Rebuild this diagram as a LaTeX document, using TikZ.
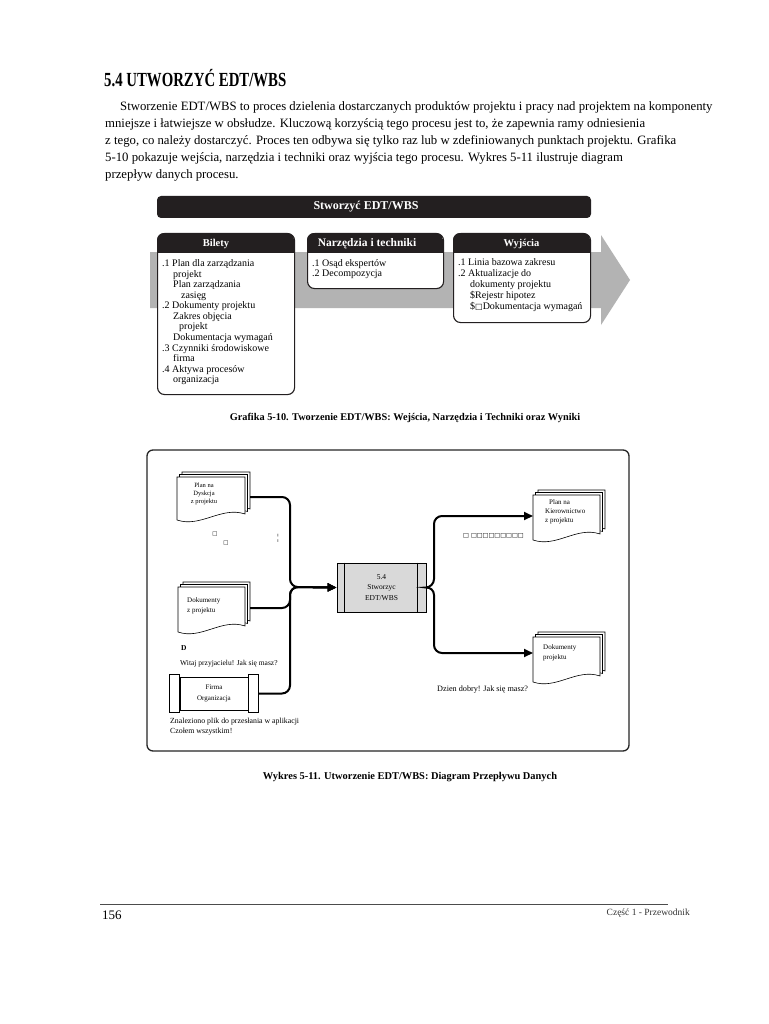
\documentclass[tikz,border=0pt]{standalone}
\usepackage{fontspec}
\setmainfont{Liberation Serif}
\newfontfamily\symf{DejaVu Sans}
\usetikzlibrary{arrows.meta}
\definecolor{dark}{HTML}{231F20}
\definecolor{agray}{HTML}{B3B3B3}
\definecolor{pgray}{HTML}{D9D9D9}
\newcommand\fsz[2]{\fontsize{#1}{#2}\selectfont}
\newcommand\docstack[4]{%
  \foreach \sft in {5,2.5,0}{%
    \filldraw[fill=white, draw=black, line width=0.6pt]
      ({#1+\sft},{#2-\sft}) -- ({#3+\sft},{#2-\sft}) -- ({#3+\sft},{#4-\sft-6})
      .. controls ({#3+\sft-0.35*(#3-#1)},{#4-\sft-14}) and ({#1+\sft+0.35*(#3-#1)},{#4-\sft+8}) ..
      ({#1+\sft},{#4-\sft}) -- cycle;
  }}
\tikzset{
  body/.style={anchor=base west, inner sep=0pt, font=\fsz{12.75}{17}},
  tbox/.style={draw=dark, line width=1.1pt, rounded corners=7pt, fill=white, anchor=north west, inner sep=0pt},
  htext/.style={text=white, font=\bfseries\fsz{10.5}{12}, inner sep=0pt},
  btext/.style={anchor=north west, inner sep=0pt, align=left},
  small/.style={inner sep=0pt, font=\fsz{7.6}{9}},
  flow/.style={line width=2pt, rounded corners=8pt, -{Triangle[length=9pt,width=8pt]}},
  capt/.style={inner sep=0pt, font=\bfseries\fsz{10.3}{12}}
}
\begin{document}
\begin{tikzpicture}[x=1pt,y=-1pt]
\useasboundingbox (0,0) rectangle (768,1024);
\fill[white] (0,0) rectangle (768,1024);

% title and paragraph
\node[anchor=base west, inner sep=0pt, font=\bfseries\fsz{20}{22}] (title) at (104,87) {\scalebox{0.74}[1]{5.4 UTWORZYĆ EDT/WBS}};
\node[body] (p1) at (120,111) {Stworzenie EDT/WBS to proces dzielenia dostarczanych produktów projektu i pracy nad projektem na komponenty};
\node[body] (p2) at (105,128) {mniejsze i łatwiejsze w obsłudze. Kluczową korzyścią tego procesu jest to, że zapewnia ramy odniesienia};
\node[body] (p3) at (105,145) {z tego, co należy dostarczyć. Proces ten odbywa się tylko raz lub w zdefiniowanych punktach projektu. Grafika};
\node[body] (p4) at (105,162) {5-10 pokazuje wejścia, narzędzia i techniki oraz wyjścia tego procesu. Wykres 5-11 ilustruje diagram};
\node[body] (p5) at (105,179) {przepływ danych procesu.};

% top diagram
\node[fill=dark, rounded corners=4pt, minimum width=434pt, minimum height=22pt, inner sep=0pt] (hbar) at (374,207) {};
\node[text=white, font=\bfseries\fsz{12}{14}, inner sep=0pt] (hbart) at (366,207) {Stworzyć EDT/WBS};
\fill[agray] (150,252) -- (601,252) -- (601,235) -- (630,280) -- (601,325) -- (601,308) -- (150,308) -- cycle;

\node[tbox, minimum width=137pt, minimum height=161pt] (bil) at (157,233) {};
\node[tbox, minimum width=136pt, minimum height=55pt] (narz) at (307,233) {};
\node[tbox, minimum width=137pt, minimum height=89pt] (wyj) at (453,233) {};
\begin{scope}
  \clip[rounded corners=7pt] (157,233) rectangle (294,394);
  \fill[dark] (157,233) rectangle (294,253);
\end{scope}
\begin{scope}
  \clip[rounded corners=7pt] (307,233) rectangle (443,288);
  \fill[dark] (307,233) rectangle (443,253);
\end{scope}
\begin{scope}
  \clip[rounded corners=7pt] (453,233) rectangle (590,322);
  \fill[dark] (453,233) rectangle (590,253);
\end{scope}
\node[htext] (bilh) at (216,243.5) {Bilety};
\node[htext, font=\bfseries\fsz{11.5}{13}] (narzh) at (367,243.5) {Narzędzia i techniki};
\node[htext] (wyjh) at (521.5,243.5) {Wyjścia};

\node[btext, font=\fsz{10}{10.55}] (bilt) at (162,259.5) {%
.1 Plan dla zarządzania\\
\hspace*{11pt}projekt\\
\hspace*{11pt}Plan zarządzania\\
\hspace*{19pt}zasięg\\
.2 Dokumenty projektu\\
\hspace*{11pt}Zakres objęcia\\
\hspace*{17pt}projekt\\
\hspace*{11pt}Dokumentacja wymagań\\
.3 Czynniki środowiskowe\\
\hspace*{11pt}firma\\
.4 Aktywa procesów\\
\hspace*{11pt}organizacja};
\node[btext, font=\fsz{10}{10}] (narzt) at (312,259.5) {.1 Osąd ekspertów\\.2 Decompozycja};
\node[btext, font=\fsz{10}{11}] (wyjt) at (458,258.5) {%
.1 Linia bazowa zakresu\\
.2 Aktualizacje do\\
\hspace*{12pt}dokumenty projektu\\
\hspace*{12pt}\$Rejestr hipotez\\
\hspace*{12pt}\${\symf\fsz{8}{10}□}Dokumentacja wymagań};

\node[capt] (cap1) at (405,418) {Grafika 5-10. Tworzenie EDT/WBS: Wejścia, Narzędzia i Techniki oraz Wyniki};

% bottom diagram frame
\draw[draw=black!85, line width=1.3pt, rounded corners=6pt] (147,450) rectangle (629,751);

% documents
\docstack{177}{477}{245}{520}
\docstack{178}{587}{245}{632}
\docstack{533}{495}{600}{540}
\docstack{533}{637}{600}{682}
\node[small, align=center, font=\fsz{6.5}{8}] (t1) at (204,494) {Plan na\\Dyskcja\\z projektu};
\node[small, align=left, anchor=west, font=\fsz{7}{9.5}] (t2) at (187,606) {Dokumenty\\z projektu};
\node[small, align=left, anchor=north west, font=\fsz{7}{9}] (t3) at (545,499) {\hspace*{4pt}Plan na\\Kierownictwo\\z projektu};
\node[small, align=left, anchor=north west, font=\fsz{7}{10}] (t4) at (543,644) {Dokumenty\\projektu};

% process box
\node[draw=black, line width=0.7pt, fill=pgray, minimum width=89pt, minimum height=49pt, inner sep=0pt,
      align=center, font=\fsz{7.5}{10.5}] (proc) at (381.5,587.5) {5.4\\Stworzyc\\EDT/WBS};
\draw[line width=0.7pt] ([xshift=8pt]proc.north west) -- ([xshift=8pt]proc.south west);
\draw[line width=0.7pt] ([xshift=-9pt]proc.north east) -- ([xshift=-9pt]proc.south east);

% Firma Organizacja
\node[draw=black, line width=0.7pt, fill=white, minimum width=68pt, minimum height=33pt, inner sep=0pt,
      align=center, font=\fsz{7}{11}] (firma) at (214,693.5) {Firma\\Organizacja};
\draw[line width=0.7pt, fill=white] ([shift={(-10,-2)}]firma.north west) rectangle ([shift={(0,2)}]firma.south west);
\draw[line width=0.7pt, fill=white] ([shift={(0,-2)}]firma.north east) rectangle ([shift={(10,2)}]firma.south east);

% connector end points
\coordinate (d1e) at (250,497);
\coordinate (d2e) at (250,608);
\coordinate (fe) at ([xshift=10pt]firma.east);
\coordinate (d3w) at (533,516);
\coordinate (d4w) at (533,653);

\draw[flow] (d1e) -- (290,497) -- (290,587) -- (proc.west);
\draw[flow] (d2e) -- (290,608) -- (290,587) -- (proc.west);
\draw[flow] (fe) -- (290,693.5) -- (290,587) -- (proc.west);
\draw[flow] (proc.east) -- (434,587) -- (434,516) -- (d3w);
\draw[flow] (proc.east) -- (434,587) -- (434,653) -- (d4w);

% small texts
\node[inner sep=0pt, font=\symf\fsz{5.5}{6}] (sq1) at (215,534) {□};
\node[inner sep=0pt, font=\symf\fsz{5.5}{6}] (sq2) at (226,543) {□};
\node[inner sep=0pt, font=\fsz{9}{10}] (bar) at (278,538.5) {¦};
\node[inner sep=0pt, anchor=west, font=\symf\fsz{6.2}{7}] (sqrow) at (463,536) {□ □□□□□□□□□};
\node[small, anchor=west, font=\bfseries\fsz{7.5}{9}] (dd) at (181,648) {D};
\node[small, anchor=west, font=\fsz{7.5}{9}] (witaj) at (180,664) {Witaj przyjacielu! Jak się masz?};
\node[small, anchor=north west, align=left, font=\fsz{7.8}{9.5}] (znal) at (170,718) {Znaleziono plik do przesłania w aplikacji\\Czołem wszystkim!};
\node[small, anchor=west, font=\fsz{8.2}{9}] (dzien) at (437,690) {Dzien dobry! Jak się masz?};

\node[capt, font=\bfseries\fsz{10.4}{12}] (cap2) at (410,777) {Wykres 5-11. Utworzenie EDT/WBS: Diagram Przepływu Danych};

% footer
\draw[black!70, line width=0.8pt] (100,904) -- (668,904);
\node[anchor=west, inner sep=0pt, font=\fsz{13}{15}] (pnum) at (102,915) {156};
\node[anchor=east, inner sep=0pt, font=\fsz{9.5}{11}, text=black!80] (foot) at (690,913) {Część 1 - Przewodnik};
\end{tikzpicture}
\end{document}
